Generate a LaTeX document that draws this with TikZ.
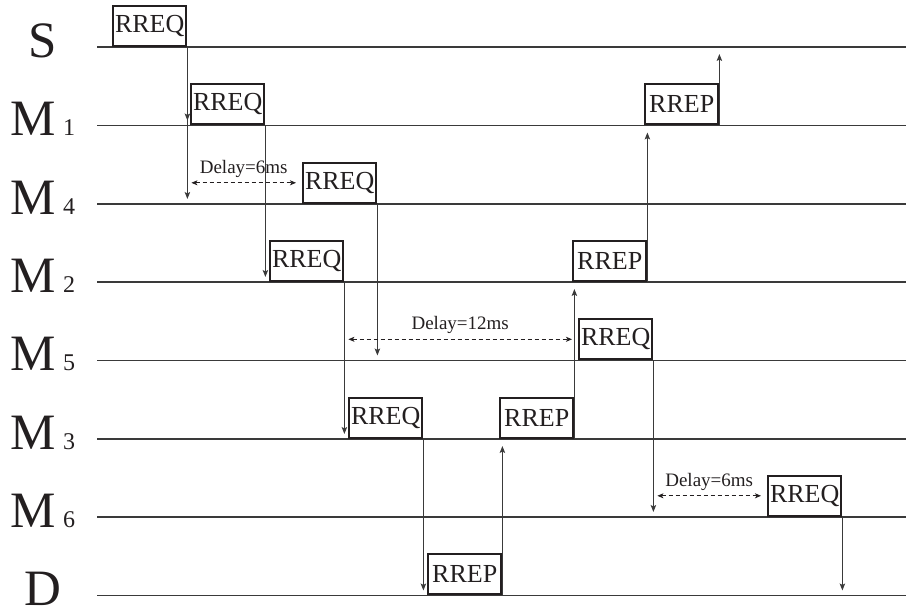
\documentclass[tikz,border=0pt]{standalone}
\usepackage{fontspec}
\setmainfont{Liberation Serif}
\usetikzlibrary{arrows.meta,positioning}
\definecolor{seqink}{HTML}{231F20}
\definecolor{seqline}{HTML}{3A3A3A}
\newcommand{\fsz}[1]{\fontsize{#1}{#1}\selectfont}
\tikzset{
  msg/.style={draw=seqink, line width=2.4pt, minimum width=73pt, minimum height=40pt, inner sep=0pt, anchor=south west, font=\fsz{26}, text=seqink},
  tl/.style={draw=seqline, line width=1.1pt},
  sig/.style={-{Stealth[length=7pt, width=5.5pt, inset=1.5pt]}, line width=1pt, color=seqline},
  dnarr/.style={sig, shorten >=5pt},
  uparr/.style={sig, shorten >=7pt},
  dly/.style={{Stealth[length=6pt, width=5pt, inset=1.5pt]}-{Stealth[length=6pt, width=5pt, inset=1.5pt]}, line width=0.9pt, dash pattern=on 4pt off 3pt, color=seqink},
  dlbl/.style={font=\fsz{19}, inner sep=0pt, text=seqink},
  hop/.style={font=\fsz{51}, anchor=base, inner sep=0pt, text=seqink},
}

\begin{document}
\begin{tikzpicture}[x=1pt, y=-1pt]
  \useasboundingbox (0,0) rectangle (906,609);
  \foreach \n/\y/\lab in {S/47/S, 1/125.5/{M\hspace{7pt}\fsz{24}1}, 4/204/{M\hspace{7pt}\fsz{24}4},
    2/282/{M\hspace{7pt}\fsz{24}2}, 5/360.5/{M\hspace{7pt}\fsz{24}5}, 3/439/{M\hspace{7pt}\fsz{24}3},
    6/517/{M\hspace{7pt}\fsz{24}6}, D/595.5/D}
  {
    \coordinate (l\n) at (97,\y);
    \coordinate (r\n) at (906,\y);
    \draw[tl] (l\n) -- (r\n);
    \node[hop] (n\n) at (43,\y+10.5) {\lab};
  }

  \node[msg] (qS) at (112,47) {RREQ};
  \node[msg] (q1) at (190,125.5) {RREQ};
  \node[msg] (q4) at (302,204) {RREQ};
  \node[msg] (q2) at (269,282) {RREQ};
  \node[msg] (q5) at (578,360.5) {RREQ};
  \node[msg] (q3) at (348,439) {RREQ};
  \node[msg] (q6) at (767,517) {RREQ};
  \node[msg] (pD) at (427,595.5) {RREP};
  \node[msg] (p3) at (499,439) {RREP};
  \node[msg] (p2) at (572,282) {RREP};
  \node[msg] (p1) at (644,125.5) {RREP};

  \foreach \a/\b in {qS/l1, qS/l4, q1/l2, q4/l5, q2/l3, q3/lD, q5/l6, q6/lD}
    \draw[dnarr] (\a.south east) -- (\a.south east |- \b);
  \foreach \a/\b in {pD/l3, p3/l2, p2/l1, p1/lS}
    \draw[uparr] (\a.south east) -- (\a.south east |- \b);

  \foreach \a/\b/\t in {qS/q4/6ms, q2/q5/12ms, q5/q6/6ms}
    \draw[dly] ([xshift=4pt]\a.south east |- \b.west) -- ([xshift=-6pt]\b.west)
      node[dlbl, midway, above=5pt] {Delay=\t};
\end{tikzpicture}
\end{document}
